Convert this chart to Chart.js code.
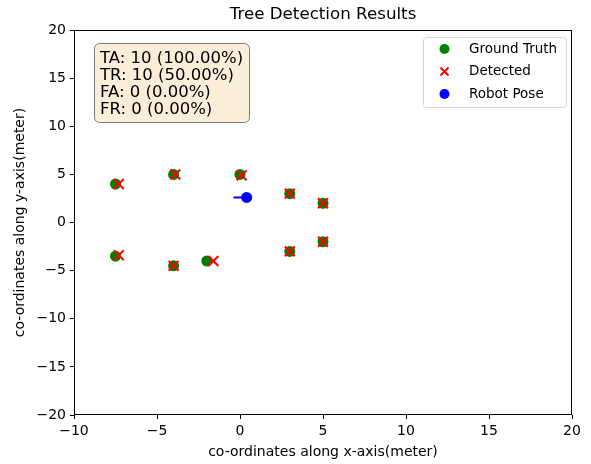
<!DOCTYPE html>
<html>
<head>
<meta charset="utf-8">
<script src="https://cdn.jsdelivr.net/npm/chart.js@4.4.0/dist/chart.umd.min.js"></script>
<style>
  html, body { margin: 0; padding: 0; background: #fff; }
  #wrap { width: 591px; height: 464px; }
</style>
</head>
<body>
<div id="wrap"><canvas id="treeChart"></canvas></div>
<script>
// ground truth tree positions
const truthX = [-7.5, -4, 0, 3, 5, -7.5, -4, -2, 3, 5];
const truthY = [4, 5, 5, 3, 2, -3.5, -4.5, -4, -3, -2];
// detected tree positions
const detectedX = [-7.3, -3.9, 0.1, 3, 5, -7.3, -4, -1.6, 3, 5];
const detectedY = [4, 5, 4.9, 3, 2, -3.4, -4.5, -4, -3, -2];
// robot pose and heading
const robotX = [0.4];
const robotY = [2.6];
const headingX = [0.4, -0.4];
const headingY = [2.6, 2.6];
const xTicks = [-10, -5, 0, 5, 10, 15, 20];
const yTicks = [-20, -15, -10, -5, 0, 5, 10, 15, 20];
const chartTitle = 'Tree Detection Results';
const statLines = ['TA: 10 (100.00%)', 'TR: 10 (50.00%)', 'FA: 0 (0.00%)', 'FR: 0 (0.00%)'];

const FONT = 'DejaVu Sans';
const pts = (xs, ys) => xs.map((x, i) => ({ x: x, y: ys[i] }));
const minus = v => String(v).replace('-', '\u2212');

const framePlugin = {
    id: 'frame',
    afterDraw(chart) {
        const ctx = chart.ctx;
        const a = chart.chartArea;
        ctx.save();
        ctx.strokeStyle = '#000';
        ctx.lineWidth = 1;
        ctx.strokeRect(a.left + 0.5, a.top + 0.5, a.right - a.left - 1, a.bottom - a.top - 1);

        // title
        ctx.fillStyle = '#000';
        ctx.font = '16.7px ' + FONT;
        ctx.textAlign = 'center';
        ctx.textBaseline = 'middle';
        ctx.fillText(chartTitle, (a.left + a.right) / 2, 15);
        ctx.textAlign = 'left';

        // stats box
        ctx.font = '16.5px ' + FONT;
        const bx = a.left + 20.5, by = a.top + 13.5, lh = 17;
        const bw = 155, bh = 79;
        ctx.beginPath();
        ctx.roundRect(bx, by, bw, bh, 5);
        ctx.fillStyle = 'rgba(245, 222, 179, 0.5)';
        ctx.fill();
        ctx.strokeStyle = '#7a7a7a';
        ctx.stroke();
        ctx.fillStyle = '#000';
        ctx.textBaseline = 'alphabetic';
        statLines.forEach((s, i) => ctx.fillText(s, a.left + 26, a.top + 33 + lh * i));

        // legend
        const items = chart.data.datasets.filter(d => d.label);
        const lx = a.right - 148.5, ly = a.top + 7.5, lw = 143, lrow = 22.5;
        ctx.beginPath();
        ctx.roundRect(lx, ly, lw, 70, 3);
        ctx.fillStyle = 'rgba(255,255,255,0.8)';
        ctx.fill();
        ctx.strokeStyle = '#d6d6d6';
        ctx.stroke();
        ctx.font = '13.5px ' + FONT;
        ctx.textBaseline = 'middle';
        items.forEach((d, i) => {
            const cy = a.top + 19 + i * lrow;
            const cx = lx + 21;
            if (d.pointStyle === 'crossRot') {
                ctx.strokeStyle = d.borderColor;
                ctx.lineWidth = 2;
                ctx.beginPath();
                ctx.moveTo(cx - 4, cy - 4); ctx.lineTo(cx + 4, cy + 4);
                ctx.moveTo(cx - 4, cy + 4); ctx.lineTo(cx + 4, cy - 4);
                ctx.stroke();
            } else {
                ctx.fillStyle = d.backgroundColor;
                ctx.beginPath();
                ctx.arc(cx, cy, 5, 0, Math.PI * 2);
                ctx.fill();
            }
            ctx.fillStyle = '#000';
            ctx.fillText(d.label, lx + 45.5, cy);
        });
        ctx.restore();
    }
};

new Chart(document.getElementById('treeChart').getContext('2d'), {
    type: 'scatter',
    data: {
        datasets: [{
            label: 'Ground Truth',
            data: pts(truthX, truthY),
            backgroundColor: 'green',
            borderColor: 'green',
            pointRadius: 5.5,
            pointBorderWidth: 0,
            order: 3
        }, {
            label: 'Detected',
            data: pts(detectedX, detectedY),
            pointStyle: 'crossRot',
            backgroundColor: 'red',
            borderColor: 'red',
            pointRadius: 7,
            pointBorderWidth: 2,
            order: 1
        }, {
            label: 'Robot Pose',
            data: pts(robotX, robotY),
            backgroundColor: 'blue',
            borderColor: 'blue',
            pointRadius: 5.5,
            pointBorderWidth: 0,
            order: 2
        }, {
            label: '',
            data: pts(headingX, headingY),
            showLine: true,
            borderColor: 'blue',
            borderWidth: 2,
            pointRadius: 0,
            order: 4
        }]
    },
    options: {
        responsive: true,
        maintainAspectRatio: false,
        animation: false,
        layout: { padding: { left: 0, right: 19, top: 30, bottom: 0 } },
        plugins: {
            legend: { display: false },
            tooltip: { enabled: false },
            title: { display: false }
        },
        scales: {
            x: {
                type: 'linear',
                min: -10, max: 20,
                afterBuildTicks: s => { s.ticks = xTicks.map(v => ({ value: v })); },
                afterFit: s => { s.height = 49; },
                grid: { drawOnChartArea: false, drawTicks: true, tickLength: 4, color: '#000' },
                border: { display: false },
                ticks: { color: '#000', font: { family: FONT, size: 14 }, padding: 4, maxRotation: 0, callback: minus },
                title: { display: true, text: 'co-ordinates along x-axis(meter)', color: '#000', font: { family: FONT, size: 14 }, padding: { top: 2, bottom: 3 } }
            },
            y: {
                type: 'linear',
                min: -20, max: 20,
                afterBuildTicks: s => { s.ticks = yTicks.map(v => ({ value: v })); },
                afterFit: s => { s.width = 74; },
                grid: { drawOnChartArea: false, drawTicks: true, tickLength: 4, color: '#000' },
                border: { display: false },
                ticks: { color: '#000', font: { family: FONT, size: 14 }, padding: 4, callback: minus },
                title: { display: true, text: 'co-ordinates along y-axis(meter)', color: '#000', font: { family: FONT, size: 14 }, padding: { top: 12, bottom: 0 } }
            }
        }
    },
    plugins: [framePlugin]
});
</script>
</body>
</html>
